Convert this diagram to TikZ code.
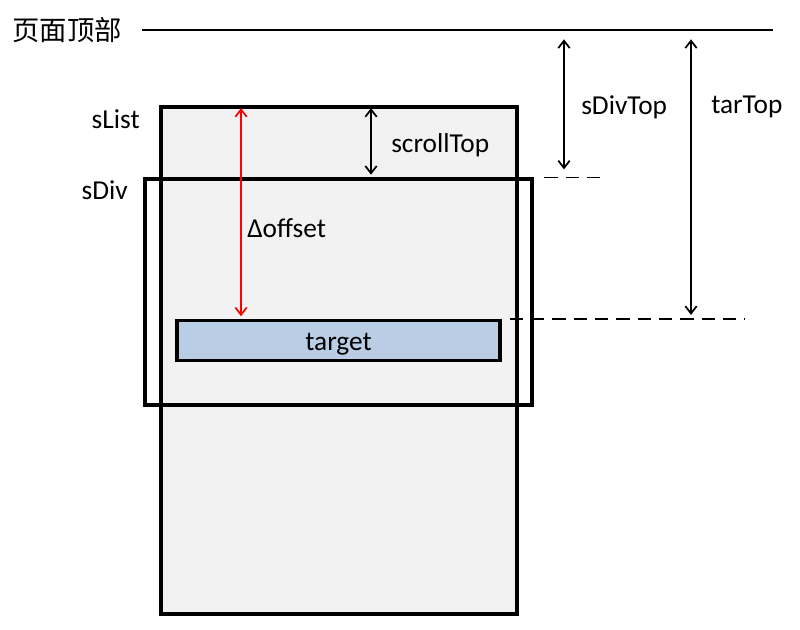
\documentclass[tikz,border=0pt]{standalone}
\usepackage{fontspec}
\setmainfont{Carlito}
\newfontfamily\cjk{Noto Sans CJK SC}
\usetikzlibrary{positioning, arrows.meta}
\definecolor{listgray}{HTML}{F2F2F2}
\definecolor{tarblue}{HTML}{B9CDE5}

\begin{document}
\begin{tikzpicture}[
    x=0.75pt, y=-0.75pt,
    box/.style = {draw, line width=2.4pt, inner sep=0pt, minimum width=#1},
    measure/.style = {<->, line width=1.3pt},
    guide/.style = {line width=1.1pt, dash pattern=on 10pt off 6pt},
    lbl/.style = {anchor=west, inner sep=0pt},
    >={Straight Barb[length=5.5pt, width=8.5pt]},
    font=\fontsize{20.5pt}{24pt}\selectfont
  ]
  \useasboundingbox (0,0) rectangle (800,630);

  \node[anchor=east, inner sep=0pt] (pagetop) at (122,30) {\cjk 页面顶部};
  \coordinate (topR) at (773,30);
  \draw[line width=2.2pt] ([xshift=15pt]pagetop.east) -- (topR);

  \node[box=267pt, minimum height=380.25pt, fill=listgray] (sList) at (339,360.5) {};
  \node[box=290.25pt, minimum height=169.5pt] (sDiv) at (338.5,292) {};
  \node[box=242.25pt, minimum height=30pt, fill=tarblue, text depth=0pt] (target) at (338.5,340.5) {\raisebox{-2pt}{target}};

  \node[anchor=east, inner sep=0pt] (sListL) at (140,119) {sList};
  \node[anchor=east, inner sep=0pt] (sDivL) at (128,190) {sDiv};

  \coordinate (offX) at (241,0);
  \coordinate (scrX) at (371,0);
  \coordinate (divX) at (564,0);
  \coordinate (tarX) at (691,0);

  \draw[measure, red] ([yshift=-2pt]sList.north -| offX) -- ([yshift=2pt]target.north -| offX);
  \node[lbl] (offL) at (247,228) {Δoffset};

  \draw[measure] ([yshift=-2pt]sList.north -| scrX) -- ([yshift=2pt]sDiv.north -| scrX);
  \node[lbl] (scrL) at (391,145) {scrollTop};

  \draw[measure] ([yshift=-7pt]topR -| divX) -- ([yshift=6pt]sDiv.north -| divX);
  \node[lbl] (divL) at (581,107) {sDivTop};

  \draw[measure] ([yshift=-7pt]topR -| tarX) -- ([yshift=3pt]target.north -| tarX);
  \node[lbl] (tarL) at (711,107) {tarTop};

  \coordinate (divG) at (604,0);
  \coordinate (tarG) at (745,0);
  \draw[guide] ([xshift=8pt]sDiv.north east) -- (sDiv.north -| divG);
  \draw[guide] ([xshift=6pt]target.north east) -- (target.north -| tarG);

\end{tikzpicture}
\end{document}
